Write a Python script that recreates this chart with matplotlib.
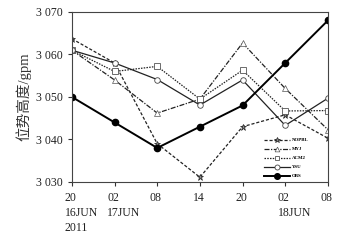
import matplotlib
matplotlib.use("Agg")
import matplotlib.pyplot as plt

times = ["20\n16JUN\n2011", "02\n17JUN", "08", "14", "20", "02\n18JUN", "08"]
nopbl = [3063.7, 3058.0, 3039.0, 3031.1, 3043.0, 3045.8, 3040.3]
myj   = [3061.0, 3054.0, 3046.2, 3049.5, 3062.7, 3052.0, 3042.3]
acm2  = [3061.0, 3056.0, 3057.2, 3049.5, 3056.3, 3046.7, 3046.8]
ysu   = [3061.0, 3058.0, 3054.1, 3048.1, 3054.0, 3043.3, 3049.7]
obs   = [3050.0, 3044.0, 3038.0, 3043.0, 3048.0, 3058.0, 3068.0]
yticks = [3030, 3040, 3050, 3060, 3070]
ytick_labels = ["3 030", "3 040", "3 050", "3 060", "3 070"]

plt.rcParams['font.family'] = ['Liberation Serif', 'Noto Sans CJK SC', 'DejaVu Sans']

fig = plt.figure(figsize=(3.56, 2.40), dpi=100)
ax = fig.add_axes([0.202, 0.242, 0.719, 0.708])
x = list(range(len(times)))
c = '#222222'
ax.plot(x, nopbl, linestyle=(0, (2.5, 1.5)), color=c, lw=0.9, marker='*', ms=4.5,
        mfc='#888888', mec=c, mew=0.5, label='NOPBL')
ax.plot(x, myj, linestyle=(0, (4, 1.2, 1, 1.2)), color=c, lw=0.9, marker='^', ms=3.8,
        mfc='white', mec='#555555', mew=0.5, label='MYJ')
ax.plot(x, acm2, linestyle=(0, (1.2, 1.0)), color=c, lw=0.9, marker='s', ms=3.8,
        mfc='white', mec='#555555', mew=0.6, label='ACM2')
ax.plot(x, ysu, linestyle='-', color=c, lw=0.9, marker='o', ms=4,
        mfc='white', mec='#444444', mew=0.6, label='YSU')
ax.plot(x, obs, linestyle='-', color='black', lw=1.4, marker='o', ms=4.5,
        mfc='black', mec='black', label='OBS')

ax.set_xlim(0, 6)
ax.set_ylim(3030, 3070)
ax.set_xticks(x)
ax.set_xticklabels([''] * len(x))
for xi, lab in zip(x, times):
    ax.annotate(lab, xy=(xi, 0), xycoords=('data', 'axes fraction'),
                xytext=(-5.3, -7.5), textcoords='offset points',
                ha='left', va='top', fontsize=8.5, linespacing=1.3,
                color='#222222', annotation_clip=False)
ax.set_yticks(yticks)
ax.set_yticklabels(ytick_labels, fontsize=8.5)
ax.tick_params(direction='out', length=3, width=0.8, colors='#333333', labelcolor='#222222')
ax.tick_params(axis='y', pad=3.5)
for s in ax.spines.values():
    s.set_color('#444444')
    s.set_linewidth(0.8)
ax.set_ylabel('位势高度/gpm', fontsize=10.5, color='#333333', labelpad=3)

leg = ax.legend(loc='center left', bbox_to_anchor=(0.74, 0.14), frameon=False,
                fontsize=3.5, handlelength=5.5, handletextpad=0.3,
                labelspacing=0.95, borderpad=0, markerscale=0.9)
for t in leg.get_texts():
    t.set_fontweight('bold')

fig.savefig('out.png', dpi=100)
